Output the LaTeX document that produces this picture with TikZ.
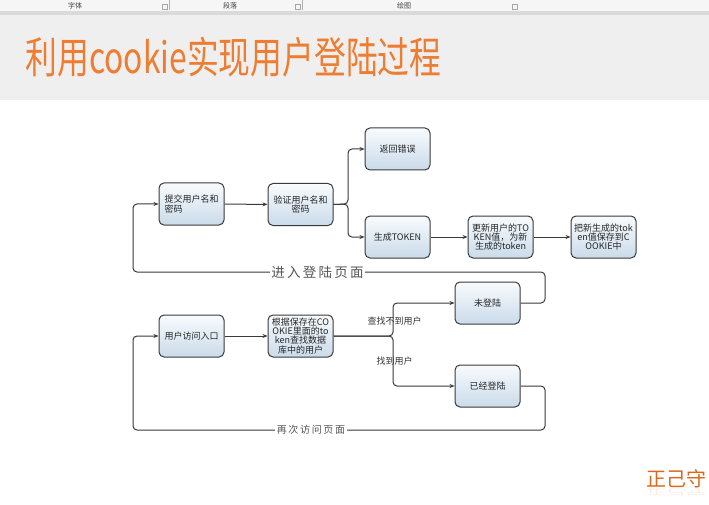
\documentclass[tikz,border=0pt]{standalone}
\usepackage{fontspec}
\setmainfont{Noto Sans CJK SC}
\usetikzlibrary{arrows.meta}

\definecolor{titleorange}{HTML}{EE7D31}
\definecolor{markorange}{HTML}{D8691E}
\definecolor{edgegray}{HTML}{3A3A3A}
\definecolor{labelgray}{HTML}{555555}
\definecolor{boxtop}{HTML}{F8FBFD}
\definecolor{boxbot}{HTML}{CADBEA}
\definecolor{barbg}{HTML}{F6F6F6}
\definecolor{barline}{HTML}{DADADA}
\definecolor{headbg}{HTML}{EFEFEF}

\begin{document}
\begin{tikzpicture}[x=1pt,y=-1pt,
  flowbox/.style={draw=edgegray, line width=1pt, rounded corners=5pt,
    top color=boxtop, bottom color=boxbot,
    minimum width=65pt, minimum height=42pt, inner sep=1pt,
    font=\fontsize{9}{9.2}\selectfont, text=black!85, align=center},
  link/.style={draw=edgegray, line width=1pt, rounded corners=4pt,
    -{Stealth[length=5pt,width=4pt]}},
  looplabel/.style={fill=white, text=labelgray, inner sep=1.5pt},
  branchlabel/.style={font=\fontsize{9}{9}\selectfont, text=black!80, inner sep=0pt},
  barlabel/.style={font=\fontsize{7}{7}\selectfont, text=black!75, inner sep=0pt}
]
\useasboundingbox (0,0) rectangle (709,505);

% page background, tool bar and heading band
\fill[white] (0,0) rectangle (709,505);
\fill[barbg] (0,0) rectangle (709,11);
\fill[barline] (0,11) rectangle (709,15);
\fill[headbg] (0,15) rectangle (709,100);
\node[barlabel] (barA) at (75,5.5) {字体};
\node[barlabel] (barB) at (230,5.5) {段落};
\node[barlabel] (barC) at (404,5.5) {绘图};
\draw[black!35, line width=0.5pt] (162,4) rectangle (167,9) (295,4) rectangle (300,9) (512,4) rectangle (517,9);
\draw[black!30, line width=0.6pt] (169,0) -- (169,10) (302,0) -- (302,10);

\node[text=titleorange, inner sep=0pt] (title) at (233.5,57)
  {\scalebox{1}[1.35]{\fontsize{31.8}{32}\selectfont 利用cookie实现用户登陆过程}};

% login flow
\node[flowbox, align=left] (sub) at (191.5,204) {提交用户名和\\密码};
\node[flowbox] (ver) at (300.5,204.5) {验证用户名和\\密码};
\node[flowbox] (err) at (397.5,149) {返回错误};
\node[flowbox] (tok) at (397.5,237) {生成TOKEN};
\node[flowbox] (upd) at (500.5,237) {更新用户的TO\\KEN值，为新\\生成的token};
\node[flowbox] (sav) at (603.5,237) {把新生成的tok\\en值保存到C\\OOKIE中};

% revisit flow
\node[flowbox] (ent) at (191.5,336) {用户访问入口};
\node[flowbox] (fnd) at (300.5,336) {根据保存在CO\\OKIE里面的to\\ken查找数据\\库中的用户};
\node[flowbox] (nol) at (487.5,303) {未登陆};
\node[flowbox] (yes) at (487.5,386) {已经登陆};

% branch points and loop corners
\coordinate (b1) at (348,204);
\coordinate (b2) at (393,336);
\coordinate (r1) at (545,272);
\coordinate (l1) at (133,272);
\coordinate (r2) at (545,430);
\coordinate (l2) at (133,430);

\draw[link] (sub) -- (ver);
\draw[link] (ver.east) -- (b1) |- (err.west);
\draw[link] (ver.east) -- (b1) |- (tok.west);
\draw[link] (tok) -- (upd);
\draw[link] (upd) -- (sav);

\draw[link] (ent) -- (fnd);
\draw[link] (fnd.east) -- (b2) |- (nol.west);
\draw[link] (fnd.east) -- (b2) |- (yes.west);

\draw[link] (nol.east) -| (r1) -- (l1) |- (sub.west);
\draw[link] (yes.east) -| (r2) -- (l2) |- (ent.west);

\node[looplabel, font=\fontsize{13.5}{14}\selectfont] (lab1) at (317.5,272) {进\,入\,登\,陆\,页\,面};
\node[looplabel, font=\fontsize{10}{10}\selectfont] (lab2) at (311,429.5) {再\,次\,访\,问\,页\,面};
\node[branchlabel] (lab3) at (394.5,321) {查找不到用户};
\node[branchlabel] (lab4) at (394.5,361) {找到用户};

% corner mark with its faint reflection
\node[text=markorange, inner sep=0pt, anchor=west, font=\fontsize{20}{20}\selectfont] (mark) at (646,479) {正己守};
\node[text=markorange, opacity=0.12, inner sep=0pt, anchor=west] (markshade) at (646,493)
  {\scalebox{1}[-0.4]{\fontsize{20}{20}\selectfont 正己守}};
\end{tikzpicture}
\end{document}
